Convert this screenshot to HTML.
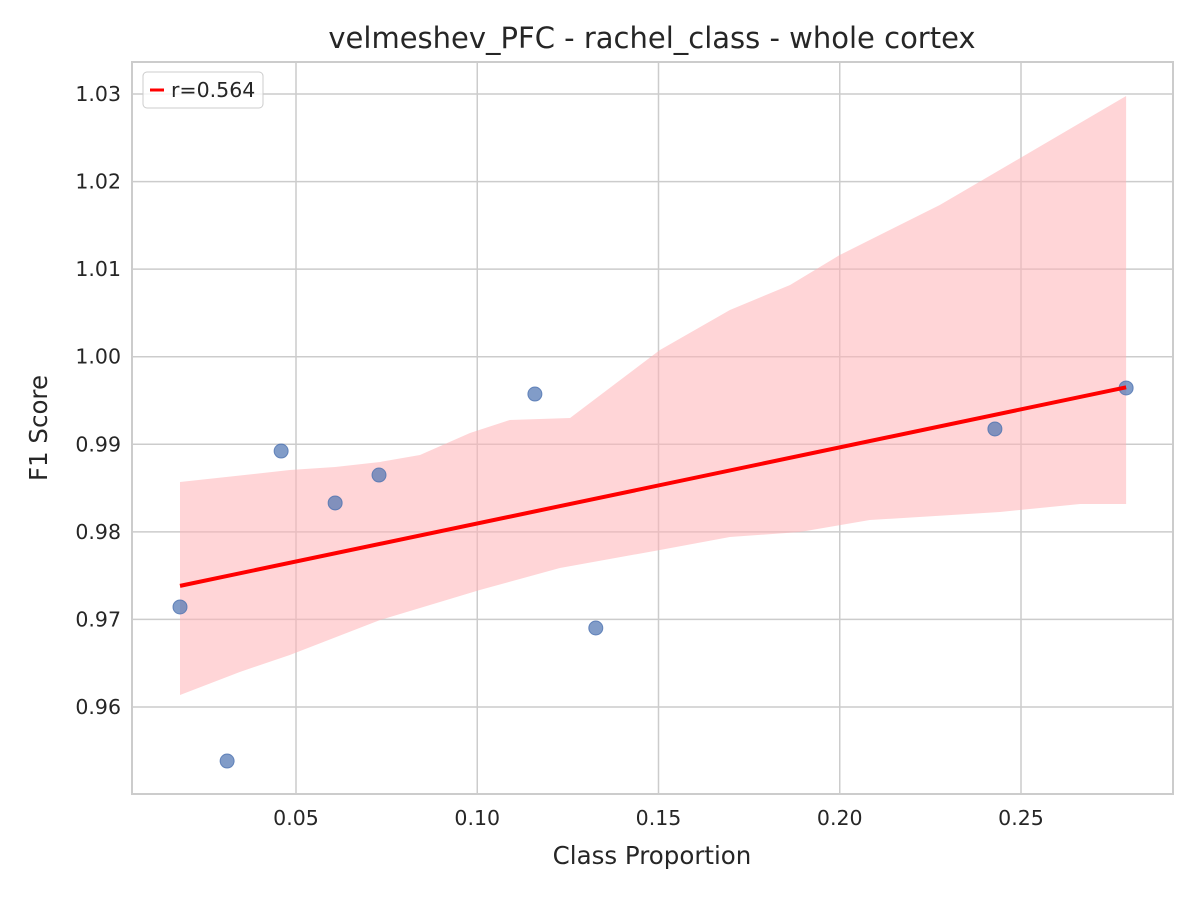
<!DOCTYPE html>
<html><head><meta charset="utf-8"><style>
body{margin:0;background:#fff;}
svg{display:block;font-family:"DejaVu Sans","Liberation Sans",sans-serif;}
</style></head><body>
<svg id="chart" width="1200" height="900">
<rect x="0" y="0" width="1200" height="900" fill="#fff"/>
<g id="grid"></g><g id="band"></g><g id="pts"></g><g id="fit"></g><g id="axes"></g>
<text x="652" y="48" font-size="29" text-anchor="middle" fill="#262626">velmeshev_PFC - rachel_class - whole cortex</text>
<text x="652" y="864" font-size="24.5" text-anchor="middle" fill="#262626">Class Proportion</text>
<text x="47" y="428" font-size="24.5" text-anchor="middle" fill="#262626" transform="rotate(-90 47 428)">F1 Score</text>
<g>
<rect x="143" y="72" width="120" height="36" rx="4" fill="#fff" fill-opacity="0.8" stroke="#ccc"/>
<line x1="150" y1="90" x2="164" y2="90" stroke="red" stroke-width="3"/>
<text x="171" y="97" font-size="20.5" fill="#262626">r=0.564</text>
</g>
</svg>
<script>
const xs=[0.0180,0.0310,0.0459,0.0608,0.0729,0.1159,0.1327,0.2428,0.2790];
const ys=[0.97142,0.95383,0.98923,0.98330,0.98649,0.99574,0.96902,0.99175,0.99643];
const bandUpX=[0.018,0.0483,0.0608,0.0732,0.0842,0.098,0.109,0.1256,0.1504,0.1697,0.1863,0.2,0.2276,0.279];
const bandUp=[0.98569,0.98706,0.98741,0.98798,0.98878,0.99129,0.99277,0.993,1.00077,1.00533,1.00819,1.01161,1.01732,1.02977];
const bandLoX=[0.018,0.0345,0.0483,0.0732,0.1007,0.1228,0.1504,0.1697,0.189,0.2083,0.2442,0.2663,0.279];
const bandLo=[0.96137,0.964,0.96594,0.96993,0.97336,0.97587,0.97793,0.97941,0.97998,0.98135,0.98227,0.98318,0.98318];
const xTicks=[0.05,0.10,0.15,0.20,0.25];
const yTicks=[0.96,0.97,0.98,0.99,1.00,1.01,1.02,1.03];
const L=132,R=1173,T=62,B=794;
const X=v=>114.75+v*3625, Y=v=>94+(1.03-v)*8757;
const NS="http://www.w3.org/2000/svg";
function mk(tag,at,parent){const e=document.createElementNS(NS,tag);for(const k in at)e.setAttribute(k,at[k]);document.getElementById(parent).appendChild(e);return e;}
xTicks.forEach(t=>{
 const l=mk('line',{x1:X(t),x2:X(t),y1:T,y2:B,stroke:'#ccc','stroke-width':1.5},'grid');
 
 
 const tx=mk('text',{x:X(t),y:B+31,'font-size':20.5,'text-anchor':'middle',fill:'#262626'},'axes');
 tx.textContent=t.toFixed(2);
 
 
});
yTicks.forEach(t=>{
 const l=mk('line',{x1:L,x2:R,y1:Y(t),y2:Y(t),stroke:'#ccc','stroke-width':1.5},'grid');
 
 
 const tx=mk('text',{x:L-11,y:Y(t)+7,'font-size':20.5,'text-anchor':'end',fill:'#262626'},'axes');
 tx.textContent=t.toFixed(2);
 
 
});
const fr=mk('rect',{x:L,y:T,width:R-L,height:B-T,fill:'none',stroke:'#ccc','stroke-width':2},'axes');


let d='M'+bandUpX.map((x,i)=>X(x)+','+Y(bandUp[i])).join('L');
d+='L'+bandLoX.map((x,i)=>[x,bandLo[i]]).reverse().map(p=>X(p[0])+','+Y(p[1])).join('L')+'Z';
const band=mk('path',{d:d,fill:'#ffb3b6',opacity:0.55},'band');


xs.forEach((x,i)=>{
 const c=mk('circle',{cx:X(x),cy:Y(ys[i]),r:7,fill:'#4c72b0','fill-opacity':0.7,stroke:'#4c72b0','stroke-opacity':0.8},'pts');
 
 
});
const n=xs.length,mx=xs.reduce((a,b)=>a+b)/n,my=ys.reduce((a,b)=>a+b)/n;
let sxy=0,sxx=0;xs.forEach((x,i)=>{sxy+=(x-mx)*(ys[i]-my);sxx+=(x-mx)**2;});
const sl=sxy/sxx,ic=my-sl*mx,x0=Math.min(...xs),x1=Math.max(...xs);
const fl=mk('line',{x1:X(x0),y1:Y(ic+sl*x0),x2:X(x1),y2:Y(ic+sl*x1),stroke:'red','stroke-width':4},'fit');


</script>
</body></html>
